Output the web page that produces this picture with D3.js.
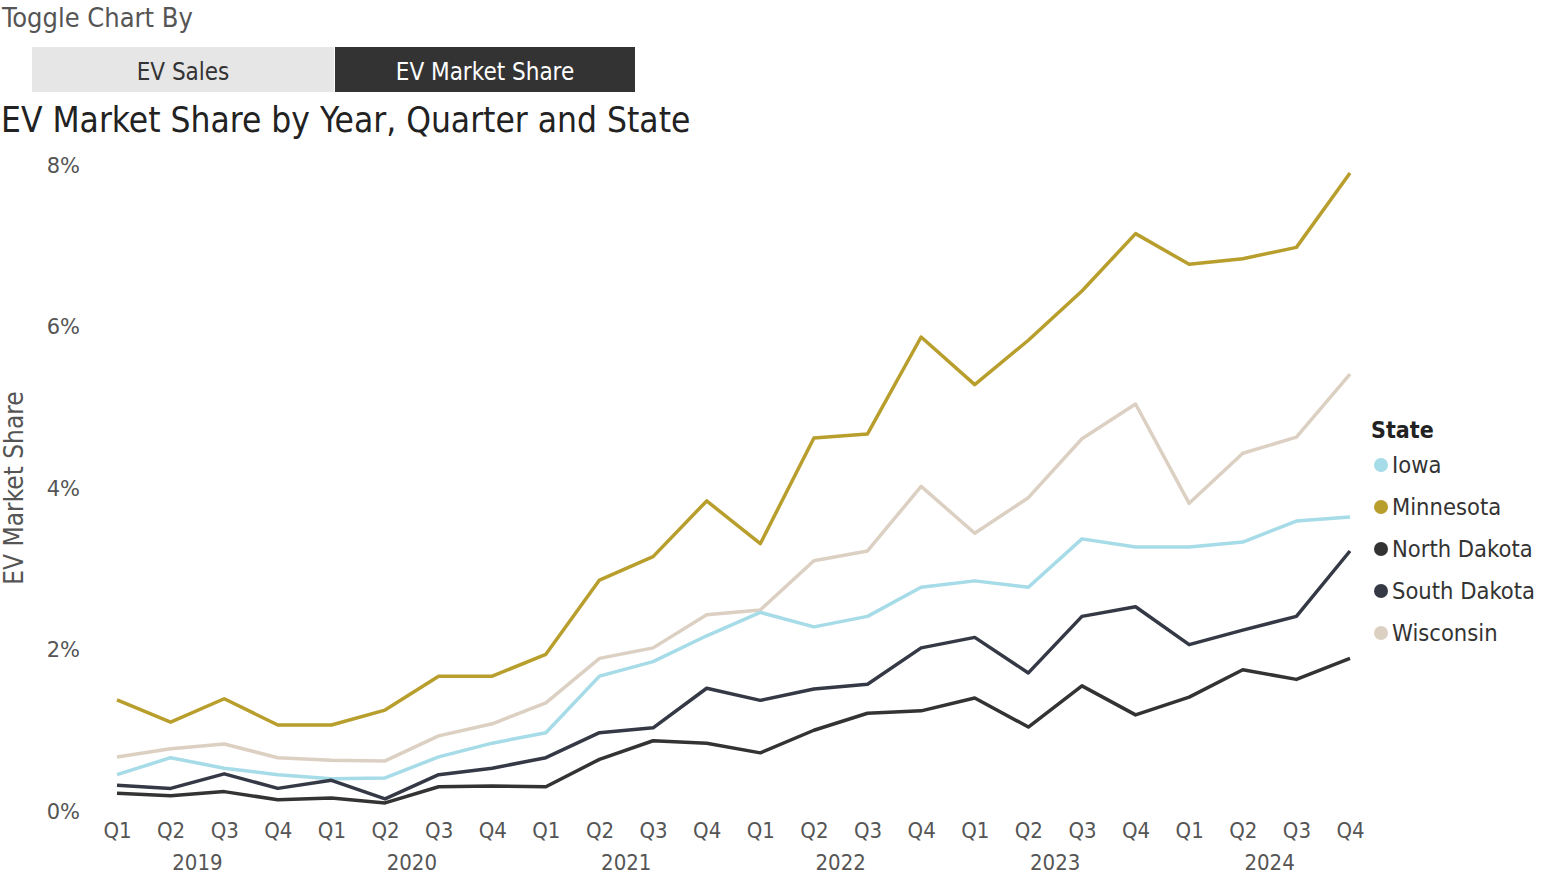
<!DOCTYPE html>
<html><head><meta charset="utf-8">
<script src="https://cdn.jsdelivr.net/npm/d3@7"></script>
<style>
body{margin:0;background:#fff;}
svg text{font-family:"DejaVu Sans Condensed","DejaVu Sans",sans-serif;}
</style></head>
<body><svg id="c" width="1542" height="875"></svg>
<script>
const years = ["2019","2020","2021","2022","2023","2024"];
const quarters = ["Q1","Q2","Q3","Q4"];
const states = ["Iowa","Minnesota","North Dakota","South Dakota","Wisconsin"];
const colors = ["#a6dbe8","#b89e2c","#333333","#343945","#dcd0c3"];
const yTicks = [0,0.02,0.04,0.06,0.08];
const iowa = [0.45,0.66,0.53,0.45,0.40,0.41,0.67,0.84,0.97,1.67,1.85,2.17,2.46,2.28,2.41,2.77,2.85,2.77,3.37,3.27,3.27,3.33,3.59,3.64];
const minnesota = [1.375,1.10,1.39,1.065,1.065,1.25,1.67,1.67,1.94,2.86,3.15,3.84,3.31,4.62,4.67,5.87,5.28,5.83,6.44,7.15,6.77,6.84,6.98,7.90];
const northDakota = [0.22,0.19,0.24,0.14,0.16,0.10,0.30,0.31,0.30,0.64,0.87,0.84,0.72,1.00,1.21,1.24,1.40,1.04,1.55,1.19,1.41,1.75,1.63,1.89];
const southDakota = [0.32,0.28,0.46,0.28,0.38,0.15,0.45,0.53,0.66,0.97,1.03,1.52,1.37,1.51,1.57,2.02,2.15,1.71,2.41,2.53,2.06,2.24,2.41,3.22];
const wisconsin = [0.67,0.77,0.83,0.66,0.63,0.62,0.93,1.08,1.34,1.89,2.02,2.43,2.49,3.10,3.22,4.02,3.44,3.88,4.61,5.04,3.81,4.43,4.63,5.41];
const seriesValues = [iowa, minnesota, northDakota, southDakota, wisconsin];

const periods = [];
years.forEach(y => quarters.forEach(q => periods.push(y + "-" + q)));

const svg = d3.select("#c");
const txt = "#555";

// Toggle header
svg.append("text").attr("x",2).attr("y",27).attr("font-size",27).attr("fill","#555").text("Toggle Chart By");
const btns = [{label:"EV Sales",x0:32,x1:334,bg:"#e6e6e6",fg:"#333"},{label:"EV Market Share",x0:335,x1:635,bg:"#333333",fg:"#fff"}];
btns.forEach(b=>{
  svg.append("rect").attr("x",b.x0).attr("y",47).attr("width",b.x1-b.x0).attr("height",45).attr("fill",b.bg);
  svg.append("text").attr("x",(b.x0+b.x1)/2).attr("y",80).attr("text-anchor","middle").attr("font-size",24).attr("fill",b.fg).text(b.label);
});
svg.append("text").attr("x",1).attr("y",132).attr("font-size",35).attr("fill","#222").text("EV Market Share by Year, Quarter and State");

const x = d3.scalePoint().domain(periods).range([117,1350]);
const y = d3.scaleLinear().domain([0,0.08]).range([811,165]);

// Y axis
const yAxis = svg.append("g").attr("transform","translate(80,0)")
  .call(d3.axisLeft(y).tickValues(yTicks).tickFormat(d3.format(".0%")).tickSize(0).tickPadding(0));
yAxis.select(".domain").remove();
yAxis.selectAll("text").style("font-family","'DejaVu Sans',sans-serif").style("font-size","21px").attr("fill",txt).attr("dy","0.35em");

svg.append("text").attr("transform","translate(23,488) rotate(-90)").attr("text-anchor","middle")
  .attr("font-size",26).attr("fill",txt).text("EV Market Share");

// X axis
const xAxis = svg.append("g").attr("transform","translate(0,822)")
  .call(d3.axisBottom(x).tickFormat(d=>d.split("-")[1]).tickSize(0).tickPadding(0));
xAxis.select(".domain").remove();
xAxis.selectAll("text").attr("font-size",22).attr("fill",txt).attr("dy","0.71em");

years.forEach(yr=>{
  const cx = (x(yr+"-Q1")+x(yr+"-Q4"))/2;
  svg.append("text").attr("x",cx).attr("y",870).attr("text-anchor","middle").attr("font-size",22).attr("fill",txt).text(yr);
});

// Lines
const line = d3.line().x((d,i)=>x(periods[i])).y(d=>y(d/100));
const order = [4,0,1,3,2];
order.forEach(si=>{
  svg.append("path").datum(seriesValues[si]).attr("d",line).attr("fill","none")
    .attr("stroke",colors[si]).attr("stroke-width",3.5).attr("stroke-linejoin","round");
});

// Legend
svg.append("text").attr("x",1371).attr("y",438).attr("font-size",23).attr("font-weight","bold").attr("fill","#222").text("State");
const leg = d3.scaleBand().domain(states).range([444,654]);
states.forEach((s,i)=>{
  const cy = leg(s)+leg.bandwidth()/2;
  svg.append("circle").attr("cx",1381).attr("cy",cy).attr("r",7).attr("fill",colors[i]);
  svg.append("text").attr("x",1392).attr("y",cy).attr("dy","0.35em").attr("font-size",23.5).attr("fill","#333").text(s);
});
</script></body></html>
